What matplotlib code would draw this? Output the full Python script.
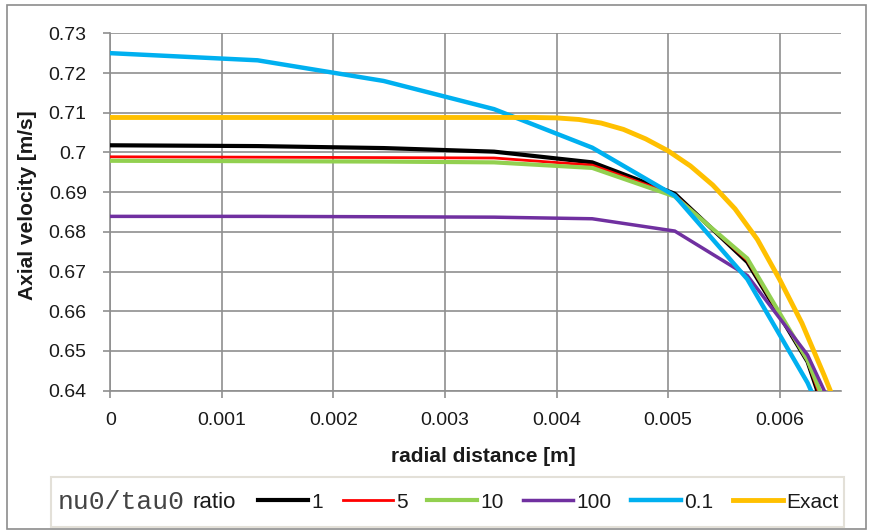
import matplotlib
matplotlib.use("Agg")
import matplotlib.pyplot as plt
from matplotlib.patches import Rectangle

plt.rcParams['font.family'] = ['Liberation Sans', 'DejaVu Sans']

# ---- data ----
r = [0, 0.00132, 0.00245, 0.00344, 0.00432, 0.00506, 0.00571, 0.00625, 0.0066]
v_1 = [0.7018, 0.7016, 0.7011, 0.7002, 0.6975, 0.6896, 0.6724, 0.6473, 0.6181]
v_5 = [0.6989, 0.6988, 0.6987, 0.6986, 0.6968, 0.6893, 0.6728, 0.6475, 0.6200]
v_10 = [0.6979, 0.6978, 0.6977, 0.6975, 0.6961, 0.6889, 0.6733, 0.6477, 0.6232]
v_100 = [0.6839, 0.6839, 0.6838, 0.6837, 0.6833, 0.6802, 0.6690, 0.6490, 0.6280]
v_01 = [0.7250, 0.7232, 0.7180, 0.7109, 0.7012, 0.6891, 0.6681, 0.6420, 0.6200]

r_exact = [0, 0.0038, 0.0040, 0.0042, 0.0044, 0.0046, 0.0048, 0.0050, 0.0052,
           0.0054, 0.0056, 0.0058, 0.0060, 0.0062, 0.0064, 0.0065]
v_exact = [0.7088, 0.7088, 0.7087, 0.7083, 0.7074, 0.7058, 0.7034, 0.7004, 0.6966,
           0.6918, 0.6858, 0.6781, 0.6680, 0.6570, 0.6438, 0.6368]

labels = ['1', '5', '10', '100', '0.1', 'Exact']
colors = ['#000000', '#ff0000', '#92d050', '#7030a0', '#00b0f0', '#ffc000']
widths = [3.0, 2.0, 3.0, 2.5, 3.2, 3.5]

xticks = [0, 0.001, 0.002, 0.003, 0.004, 0.005, 0.006]
xtick_labels = ['0', '0.001', '0.002', '0.003', '0.004', '0.005', '0.006']
yticks = [0.64, 0.65, 0.66, 0.67, 0.68, 0.69, 0.70, 0.71, 0.72, 0.73]
ytick_labels = ['0.64', '0.65', '0.66', '0.67', '0.68', '0.69', '0.7', '0.71', '0.72', '0.73']

W, H = 871, 531
fig = plt.figure(figsize=(W / 100, H / 100), dpi=100)
fig.patch.set_facecolor('white')

# outer chart border
fig.patches.append(Rectangle((7 / W, 1 - 529 / H), (866 - 7) / W, (529 - 5) / H,
                             transform=fig.transFigure, fill=False,
                             edgecolor='#8c8c8c', linewidth=1.2))

left, right, top, bottom = 110.3, 841, 33.3, 390.7
ax = fig.add_axes([left / W, 1 - bottom / H, (right - left) / W, (bottom - top) / H])

series = [v_1, v_5, v_10, v_100, v_01]
handles = []
for i, vals in enumerate(series):
    ln, = ax.plot(r, vals, color=colors[i], lw=widths[i], zorder=3 + i,
                  solid_joinstyle='miter', label=labels[i])
    handles.append(ln)
ln, = ax.plot(r_exact, v_exact, color=colors[5], lw=widths[5], zorder=9, label=labels[5])
handles.append(ln)

ax.set_xlim(0, 0.00655)
ax.set_ylim(0.64, 0.73)
ax.set_xticks(xticks)
ax.set_xticklabels(xtick_labels)
ax.set_yticks(yticks)
ax.set_yticklabels(ytick_labels)

grid_c = '#8f8f8f'
ax.grid(True, color=grid_c, linewidth=1.2, zorder=0)
ax.set_axisbelow(True)
for s in ['top', 'right']:
    ax.spines[s].set_visible(False)
for s in ['left', 'bottom']:
    ax.spines[s].set_color(grid_c)
    ax.spines[s].set_linewidth(1.2)
ax.tick_params(axis='both', colors=grid_c, length=5, width=1.2, labelcolor='#1a1a1a',
               labelsize=14)
ax.tick_params(axis='y', pad=12)
ax.tick_params(axis='x', pad=10)

ax.set_xlabel('radial distance [m]', fontsize=15, fontweight='bold', color='#1a1a1a')
ax.xaxis.set_label_coords((483.5 - left) / (right - left), (bottom - 457) / (bottom - top))
ax.xaxis.label.set_va('center')
ax.set_ylabel('Axial velocity [m/s]', fontsize=15, fontweight='bold', color='#1a1a1a')
ax.yaxis.set_label_coords((27 - left) / (right - left), (bottom - 205.5) / (bottom - top))
ax.yaxis.label.set_va('center')

# legend box
fig.patches.append(Rectangle((51 / W, 1 - 527 / H), (844 - 51) / W, (527 - 477) / H,
                             transform=fig.transFigure, fill=False,
                             edgecolor='#e3e0d8', linewidth=1.5))
ly = 1 - 502 / H
fig.text(58 / W, ly, 'nu0/tau0', family=['Liberation Mono', 'DejaVu Sans Mono'],
         fontsize=19, color='#444444', va='center', ha='left')
fig.text(192 / W, ly, 'ratio', fontsize=16, color='#1a1a1a', va='center', ha='left')
fig.legend(handles, labels, loc='center left', bbox_to_anchor=(258 / W, ly),
           ncol=6, frameon=False, borderpad=0, borderaxespad=0,
           handlelength=2.4, handletextpad=0.15, columnspacing=0.95,
           fontsize=15, labelcolor='#1a1a1a')

fig.savefig('out.png', dpi=100, facecolor='white')
